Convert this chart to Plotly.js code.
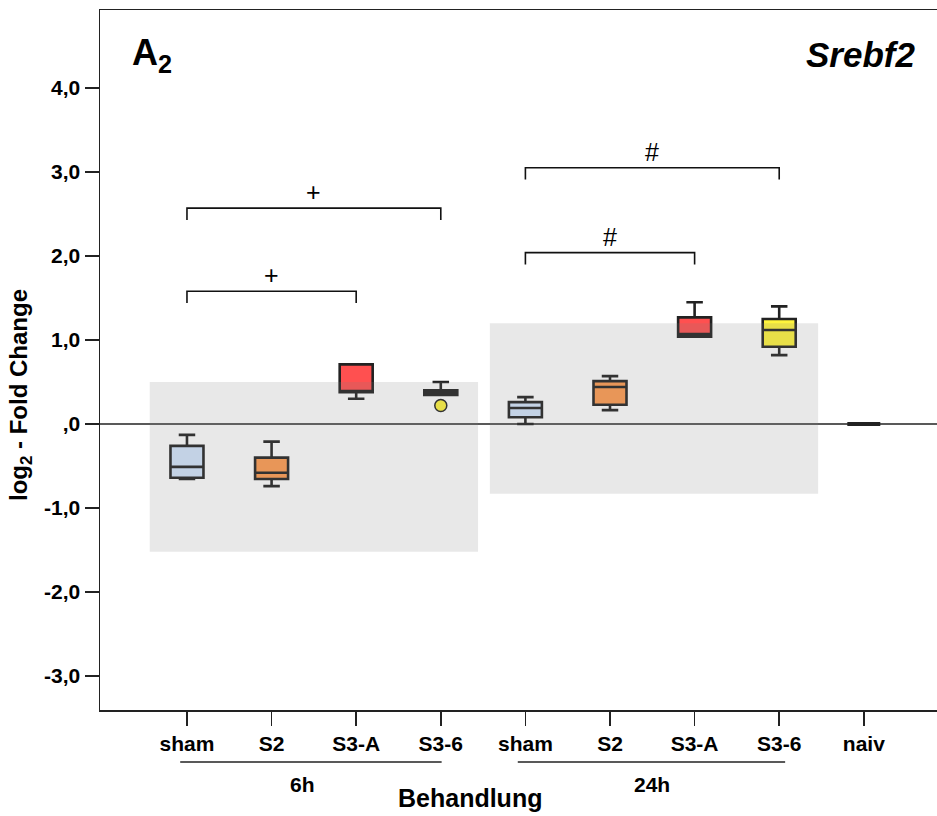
<!DOCTYPE html>
<html>
<head>
<meta charset="utf-8">
<script src="https://cdn.plot.ly/plotly-3.0.1.min.js"></script>
<style>html,body{margin:0;padding:0;background:#fff;}#chart{width:937px;height:816px;}</style>
</head>
<body>
<div id="chart"></div>
<script>
// Categories (x positions 0..8)
const categories = ['sham','S2','S3-A','S3-6','sham','S2','S3-A','S3-6','naiv'];
const fillColors = ['#d2e4fc','#ff9c50','#ff5050','#fff43c','#d2e4fc','#ff9c50','#ff5050','#fff43c','#222222'];
// Box statistics (log2 fold change)
const lowerWhisker = [-0.655,-0.74, 0.30, 0.345, 0.00, 0.165, 1.04, 0.82, 0];
const q1Values     = [-0.64, -0.655,0.38, 0.345, 0.08, 0.23,  1.04, 0.92, 0];
const medianValues = [-0.51, -0.58, 0.39, 0.37,  0.19, 0.44,  1.07, 1.12, 0];
const q3Values     = [-0.26, -0.40, 0.71, 0.40,  0.26, 0.51,  1.27, 1.25, 0];
const upperWhisker = [-0.13, -0.21, 0.71, 0.50,  0.32, 0.57,  1.45, 1.40, 0];
// Outliers
const outlierX = [3];
const outlierY = [0.22];
// Reference (grey) ranges per time group
const rangeX0 = [-0.44, 3.58];
const rangeX1 = [3.44, 7.46];
const rangeLow = [-1.52, -0.83];
const rangeHigh = [0.50, 1.20];
// Significance brackets
const brFrom = [0, 0, 4, 4];
const brTo = [2, 3, 6, 7];
const brY = [1.58, 2.57, 2.04, 3.05];
const brMark = ['+','+','#','#'];
// Group labels
const groupLabels = ['6h','24h'];
const groupFrom = [-0.08, 3.91];
const groupTo = [3.01, 7.07];
const groupLabelX = [1.37, 5.5];
// Y ticks
const yTickVals = [-3,-2,-1,0,1,2,3,4];
const yTickText = ['-3,0','-2,0','-1,0',',0','1,0','2,0','3,0','4,0'];

const FONT = 'Arial, "Liberation Sans", sans-serif';
const traces = categories.map((c, i) => ({
  type: 'box',
  x: [i],
  q1: [q1Values[i]], median: [medianValues[i]], q3: [q3Values[i]],
  lowerfence: [lowerWhisker[i]], upperfence: [upperWhisker[i]],
  width: 0.39,
  whiskerwidth: 0.5,
  fillcolor: fillColors[i],
  line: {color: '#222222', width: i === 8 ? 4 : 2.6},
  boxpoints: false,
  hoverinfo: 'skip',
  showlegend: false
}));
traces.push({
  type: 'scatter', mode: 'markers', x: outlierX, y: outlierY,
  marker: {size: 12, color: '#fff43c', line: {color: '#222', width: 1.5}},
  showlegend: false, hoverinfo: 'skip'
});

const shapes = [];
// zero line
shapes.push({type:'line', xref:'paper', yref:'y', x0:0, x1:1, y0:0, y1:0, line:{color:'#222', width:1.5}, layer:'below'});
// grey overlays
for (let k = 0; k < rangeX0.length; k++) {
  shapes.push({type:'rect', xref:'x', yref:'y', x0:rangeX0[k], x1:rangeX1[k], y0:rangeLow[k], y1:rangeHigh[k],
    fillcolor:'rgba(128,128,128,0.18)', line:{width:0}, layer:'above'});
}
const annotations = [];
// brackets
const drop = 0.14;
for (let k = 0; k < brFrom.length; k++) {
  shapes.push({type:'path', xref:'x', yref:'y',
    path:`M ${brFrom[k]} ${brY[k]-drop} L ${brFrom[k]} ${brY[k]} L ${brTo[k]} ${brY[k]} L ${brTo[k]} ${brY[k]-drop}`,
    line:{color:'#111', width:1.6}});
  annotations.push({x:(brFrom[k]+brTo[k])/2, y:brY[k], xref:'x', yref:'y', text:brMark[k], showarrow:false,
    xanchor:'center', yanchor:'bottom', yshift:0, font:{family:FONT, size:25, color:'#000'}});
}
// group lines and labels
for (let k = 0; k < groupLabels.length; k++) {
  shapes.push({type:'line', xref:'x', yref:'paper', x0:groupFrom[k], x1:groupTo[k], y0:-0.0743, y1:-0.0743,
    line:{color:'#222', width:1.3}});
  annotations.push({x:groupLabelX[k], y:-0.107, xref:'x', yref:'paper', xanchor:'center', yanchor:'middle',
    text:'<b>'+groupLabels[k]+'</b>', showarrow:false, font:{family:FONT, size:21, color:'#000'}});
}
annotations.push({x:0.442, y:-0.126, xref:'paper', yref:'paper', xanchor:'center', yanchor:'middle',
  text:'<b>Behandlung</b>', showarrow:false, font:{family:FONT, size:25, color:'#000'}});
annotations.push({x:-0.0956, y:0.45, xref:'paper', yref:'paper', xanchor:'center', yanchor:'middle',
  text:'<b>log<sub>2</sub> - Fold Change</b>', textangle:-90, showarrow:false, font:{family:FONT, size:24, color:'#000'}});
annotations.push({x:0.036, y:0.936, xref:'paper', yref:'paper', xanchor:'left', yanchor:'middle', text:'<b>A<sub>2</sub></b>',
  showarrow:false, font:{family:FONT, size:36, color:'#000'}});
annotations.push({x:0.976, y:0.937, xref:'paper', yref:'paper', xanchor:'right', yanchor:'middle', text:'<b><i>Srebf2</i></b>',
  showarrow:false, font:{family:FONT, size:35, color:'#000'}});

const layout = {
  width: 937, height: 816,
  margin: {l:100, r:0, t:10, b:106},
  paper_bgcolor: '#fff', plot_bgcolor: '#fff',
  showlegend: false,
  xaxis: {
    range: [-1.028, 8.865], tickvals: categories.map((c,i)=>i), ticktext: categories.map(c=>'<b>'+c+'</b>'),
    showgrid:false, zeroline:false, showline:true, mirror:true, linecolor:'#222', linewidth:1.5,
    ticks:'outside', ticklen:14, tickwidth:1.5, tickcolor:'#222',
    tickfont:{family:FONT, size:21, color:'#000'}
  },
  yaxis: {
    range: [-3.405, 4.929], tickvals: yTickVals, ticktext: yTickText.map(t=>'<b>'+t+'</b>'),
    showgrid:false, zeroline:false, showline:true, mirror:true, linecolor:'#222', linewidth:1.5,
    ticks:'outside', ticklen:14, tickwidth:1.5, tickcolor:'#222', ticklabelstandoff:0,
    tickfont:{family:FONT, size:21, color:'#000'}
  },
  shapes: shapes,
  annotations: annotations
};
Plotly.newPlot('chart', traces, layout, {displayModeBar:false, staticPlot:true});
</script>
</body>
</html>
